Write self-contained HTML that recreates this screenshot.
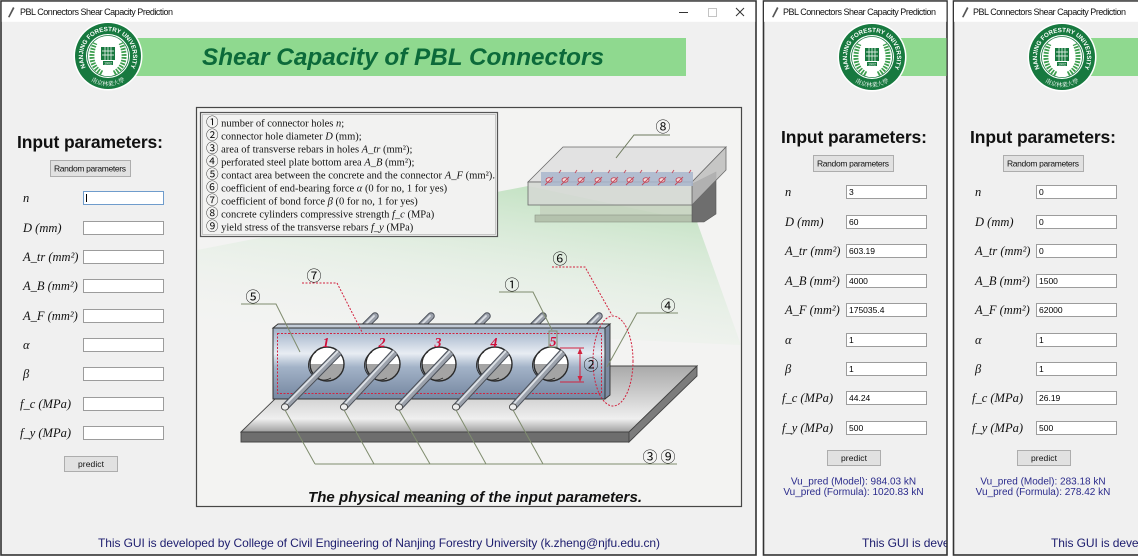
<!DOCTYPE html>
<html><head><meta charset="utf-8"><style>
html,body{margin:0;padding:0;background:#fff;}
svg{display:block;}
.sans{font-family:"Liberation Sans",Arial,sans-serif;}
.serif{font-family:"Liberation Serif","Noto Serif CJK SC",serif;}
.lab{font-family:"Liberation Serif",serif;font-style:italic;font-size:12.5px;fill:#111;}
.ent{fill:#fff;stroke:#9c9c9c;stroke-width:1;}
.ev{font-family:"Liberation Sans",Arial,sans-serif;font-size:8.5px;fill:#000;}
.btn{fill:#e1e1e1;stroke:#adadad;stroke-width:1;}
.bt{font-family:"Liberation Sans",Arial,sans-serif;font-size:8.5px;fill:#111;}
.cn{font-family:"Liberation Serif","Noto Sans CJK SC",sans-serif;font-size:15px;fill:#111;}
.res{font-family:"Liberation Sans",Arial,sans-serif;font-size:10px;fill:#2b2b8c;}
.foot{font-family:"Liberation Sans",Arial,sans-serif;font-size:12px;fill:#1d1d6e;}
.leg{font-family:"Liberation Serif","Noto Serif CJK SC",serif;font-size:10.5px;fill:#111;}
.cd{font-family:"Noto Sans CJK SC",sans-serif;font-size:12.5px;}
</style></head><body>
<svg width="1138" height="557" viewBox="0 0 1138 557" xmlns="http://www.w3.org/2000/svg">
<defs>
<linearGradient id="web" x1="0" y1="0" x2="0" y2="1">
<stop offset="0" stop-color="#9fb0c6"/><stop offset="0.2" stop-color="#c6d1df"/><stop offset="0.36" stop-color="#e8edf3"/><stop offset="0.55" stop-color="#a3b3c8"/><stop offset="0.85" stop-color="#8495ad"/><stop offset="1" stop-color="#7688a2"/>
</linearGradient>
<linearGradient id="plate" x1="0" y1="0" x2="0" y2="1">
<stop offset="0" stop-color="#a9a9a9"/><stop offset="0.45" stop-color="#cfcfcf"/><stop offset="0.8" stop-color="#efefef"/><stop offset="1" stop-color="#a0a0a0"/>
</linearGradient>
<linearGradient id="glow" x1="0.75" y1="0" x2="0.25" y2="1">
<stop offset="0" stop-color="#a8d8a8" stop-opacity="0.7"/><stop offset="0.5" stop-color="#c8e6c8" stop-opacity="0.3"/><stop offset="1" stop-color="#e8f3e8" stop-opacity="0"/>
</linearGradient>
<clipPath id="cw2"><rect x="764" y="1" width="182.5" height="554"/></clipPath>
<clipPath id="cw3"><rect x="954" y="1" width="190" height="554"/></clipPath>
</defs>

<!-- ================= WINDOW 1 ================= -->
<rect x="1" y="1" width="755" height="554" fill="#f0f0f0" stroke="#333" stroke-width="1.6"/>
<rect x="1.8" y="1.8" width="753.4" height="20" fill="#fff"/>
<path d="M8,17 L13,7 L14.5,8 L9.5,17.5 Z" fill="#555"/>
<text class="sans" x="20" y="15" font-size="9" textLength="153" fill="#111">PBL Connectors Shear Capacity Prediction</text>
<line x1="679" y1="12.5" x2="688" y2="12.5" stroke="#333" stroke-width="1"/>
<rect x="708.5" y="8.5" width="8" height="8" fill="none" stroke="#c4c4c4" stroke-width="1"/>
<path d="M736,8 L744,16 M744,8 L736,16" stroke="#333" stroke-width="1"/>

<rect x="133" y="38" width="553" height="38" fill="#8fd98f"/>
<text class="sans" x="202" y="65" font-size="24.5" font-weight="bold" font-style="italic" fill="#0c6a3a" textLength="402" lengthAdjust="spacingAndGlyphs">Shear Capacity of PBL Connectors</text>

<g transform="translate(108,56)">
<circle r="34.5" fill="#fff"/><circle r="33" fill="#17793f"/><circle r="22" fill="#fff"/>
<circle r="20.5" fill="none" stroke="#17793f" stroke-width="0.8"/>
<path d="M-6,17 C-16,12 -19,0 -13,-13" fill="none" stroke="#3d9e4f" stroke-width="5" stroke-dasharray="1.8 1.2"/>
<path d="M6,17 C16,12 19,0 13,-13" fill="none" stroke="#3d9e4f" stroke-width="5" stroke-dasharray="1.8 1.2"/>
<rect x="-7" y="-9" width="14" height="13" fill="#17793f"/>
<path d="M-6,-5h12M-6,-1h12M-3,-9v13M0,-9v13M3,-9v13" stroke="#fff" stroke-width="0.7"/>
<rect x="-5" y="5" width="10" height="4" fill="#17793f"/>
<text class="sans" y="8.5" font-size="3.5" fill="#fff" text-anchor="middle">1902</text>
<path id="lg1t" d="M-17.7,17.7 A25,25 0 1 1 17.7,17.7" fill="none"/>
<text class="sans" font-size="6.2" font-weight="bold" fill="#fff"><textPath href="#lg1t" startOffset="50%" text-anchor="middle">NANJING FORESTRY UNIVERSITY</textPath></text>
<path id="lg1b" d="M-21.2,21.2 A30,30 0 0 0 21.2,21.2" fill="none"/>
<text font-family="'Noto Serif CJK SC',serif" font-size="6" fill="#fff"><textPath href="#lg1b" startOffset="50%" text-anchor="middle">南京林業大學</textPath></text>
</g>

<!-- inputs window 1 -->
<text class="sans" x="17" y="148" font-size="17.5" font-weight="bold" fill="#111" textLength="146">Input parameters:</text>
<rect class="btn" x="50.5" y="160.5" width="80" height="16"/>
<text class="bt" x="54" y="171.5" textLength="72">Random parameters</text>

<text class="lab" x="23" y="202">n</text>
<text class="lab" x="23" y="232">D (mm)</text>
<text class="lab" x="23" y="261">A_tr (mm²)</text>
<text class="lab" x="23" y="290">A_B (mm²)</text>
<text class="lab" x="23" y="320">A_F (mm²)</text>
<text class="lab" x="23" y="349">α</text>
<text class="lab" x="23" y="378">β</text>
<text class="lab" x="20" y="408">f_c (MPa)</text>
<text class="lab" x="20" y="437">f_y (MPa)</text>
<rect x="83.5" y="191.5" width="80" height="13" fill="#fff" stroke="#6f9ccc" stroke-width="1"/>
<line x1="86.5" y1="194" x2="86.5" y2="202" stroke="#000" stroke-width="1"/>
<rect class="ent" x="83.5" y="221.5" width="80" height="13"/>
<rect class="ent" x="83.5" y="250.5" width="80" height="13"/>
<rect class="ent" x="83.5" y="279.5" width="80" height="13"/>
<rect class="ent" x="83.5" y="309.5" width="80" height="13"/>
<rect class="ent" x="83.5" y="338.5" width="80" height="13"/>
<rect class="ent" x="83.5" y="367.5" width="80" height="13"/>
<rect class="ent" x="83.5" y="397.5" width="80" height="13"/>
<rect class="ent" x="83.5" y="426.5" width="80" height="13"/>
<rect class="btn" x="64.5" y="456.5" width="53" height="15"/>
<text class="bt" x="78" y="467" textLength="26">predict</text>

<!-- diagram panel -->
<rect x="196.5" y="107.5" width="545" height="399" fill="#f3f3f2" stroke="#474747" stroke-width="1.2"/>
<polygon points="528,186 697,222 741,345 197,320 197,250" fill="url(#glow)"/>

<!-- sketch -->
<g>
<rect x="540" y="205" width="152" height="11" fill="#c5d3bf" opacity="0.9"/>
<rect x="535" y="215" width="163" height="7" fill="#b4c2ad" stroke="#8a9486" stroke-width="0.6"/>
<polygon points="692,184 716,172 716,214 704,222 692,222" fill="#6e6e6e" stroke="#555" stroke-width="0.6"/>
<polygon points="528,182 563,147 726,147 692,182" fill="#e2e2e2" stroke="#6a6a6a" stroke-width="0.8"/>
<polygon points="692,182 726,147 726,170 692,205" fill="#bdbdbd" fill-opacity="0.85" stroke="#6a6a6a" stroke-width="0.8"/>
<rect x="528" y="182" width="164" height="23" fill="#d4d8d3" fill-opacity="0.9" stroke="#6a6a6a" stroke-width="0.8"/>
<rect x="541" y="172" width="152" height="14" fill="#a9b6cc" fill-opacity="0.85"/>
<g stroke="#c44a5c" stroke-width="0.9" fill="#f3dcdc">
<ellipse cx="549" cy="180" rx="3" ry="2.3"/><ellipse cx="565" cy="180" rx="3" ry="2.3"/><ellipse cx="581" cy="180" rx="3" ry="2.3"/><ellipse cx="598" cy="180" rx="3" ry="2.3"/><ellipse cx="614" cy="180" rx="3" ry="2.3"/><ellipse cx="630" cy="180" rx="3" ry="2.3"/><ellipse cx="646" cy="180" rx="3" ry="2.3"/><ellipse cx="662" cy="180" rx="3" ry="2.3"/><ellipse cx="679" cy="180" rx="3" ry="2.3"/>
</g>
<path d="M545,185l8,-8M561,185l8,-8M577,185l8,-8M594,185l8,-8M610,185l8,-8M626,185l8,-8M642,185l8,-8M658,185l8,-8M675,185l8,-8M559,173l2,-3M575,173l2,-3M591,173l2,-3M608,173l2,-3M624,173l2,-3M640,173l2,-3M656,173l2,-3M672,173l2,-3M689,173l2,-3" stroke="#c44a5c" stroke-width="0.9"/>
<polyline points="670,135 634,135 616,158" fill="none" stroke="#6e7a5e" stroke-width="1"/>
<text class="cn" x="663" y="132" text-anchor="middle">⑧</text>
</g>

<!-- legend -->
<rect x="200.5" y="112.5" width="297" height="124" fill="#f2f2f1" stroke="#555" stroke-width="1.2"/>
<rect x="202.5" y="114.5" width="293" height="120" fill="none" stroke="#aaa" stroke-width="0.6"/>
<text class="leg" x="206" y="126.5"><tspan class="cd">①</tspan> number of connector holes <tspan font-style="italic">n</tspan>;</text>
<text class="leg" x="206" y="139.5"><tspan class="cd">②</tspan> connector hole diameter <tspan font-style="italic">D</tspan> (mm);</text>
<text class="leg" x="206" y="152.5"><tspan class="cd">③</tspan> area of transverse rebars in  holes  <tspan font-style="italic">A_tr</tspan> (mm²);</text>
<text class="leg" x="206" y="165.5"><tspan class="cd">④</tspan> perforated steel plate bottom area <tspan font-style="italic">A_B</tspan> (mm²);</text>
<text class="leg" x="206" y="178.5" textLength="289" lengthAdjust="spacingAndGlyphs"><tspan class="cd">⑤</tspan> contact area between the concrete and the connector <tspan font-style="italic">A_F</tspan> (mm²).</text>
<text class="leg" x="206" y="191.5"><tspan class="cd">⑥</tspan> coefficient of end-bearing force <tspan font-style="italic">α</tspan> (0 for no, 1 for yes)</text>
<text class="leg" x="206" y="204.5"><tspan class="cd">⑦</tspan> coefficient of bond force <tspan font-style="italic">β</tspan> (0 for no, 1 for yes)</text>
<text class="leg" x="206" y="217.5"><tspan class="cd">⑧</tspan> concrete cylinders compressive strength <tspan font-style="italic">f_c</tspan> (MPa)</text>
<text class="leg" x="206" y="230.5"><tspan class="cd">⑨</tspan> yield stress of the transverse rebars <tspan font-style="italic">f_y</tspan> (MPa)</text>

<!-- base plate -->
<polygon points="241,432 309,366 697,366 629,432" fill="url(#plate)" stroke="#444" stroke-width="0.9"/>
<polygon points="241,432 629,432 629,442 241,442" fill="#6e6e6e" stroke="#444" stroke-width="0.9"/>
<polygon points="629,432 697,366 697,376 629,442" fill="#7c7c7c" stroke="#444" stroke-width="0.9"/>

<!-- rebar stubs behind web -->
<g stroke-linecap="round">
<g stroke="#4a4f58" stroke-width="7.5"><line x1="375" y1="316" x2="362" y2="329"/><line x1="431" y1="316" x2="418" y2="329"/><line x1="487" y1="316" x2="474" y2="329"/><line x1="543" y1="316" x2="530" y2="329"/><line x1="599" y1="316" x2="586" y2="329"/></g>
<g stroke="#9ca2ac" stroke-width="5.5"><line x1="375" y1="316" x2="362" y2="329"/><line x1="431" y1="316" x2="418" y2="329"/><line x1="487" y1="316" x2="474" y2="329"/><line x1="543" y1="316" x2="530" y2="329"/><line x1="599" y1="316" x2="586" y2="329"/></g>
<g stroke="#dde1e6" stroke-width="1.8"><line x1="374" y1="316" x2="361" y2="329"/><line x1="430" y1="316" x2="417" y2="329"/><line x1="486" y1="316" x2="473" y2="329"/><line x1="542" y1="316" x2="529" y2="329"/><line x1="598" y1="316" x2="585" y2="329"/></g>
</g>

<!-- web -->
<polygon points="273,328 278,324 610,324 605,328" fill="#c3ccd8" stroke="#333" stroke-width="0.9"/>
<rect x="273" y="328" width="332" height="71" fill="url(#web)" stroke="#333" stroke-width="1"/>
<polygon points="605,328 610,324 610,395 605,399" fill="#7e8ca3" stroke="#333" stroke-width="0.9"/>
<rect x="277.5" y="333.5" width="324" height="60" fill="none" stroke="#d2233f" stroke-width="1" stroke-dasharray="2 1.5"/>

<!-- holes -->
<g stroke="#2a2a2a">
<g><circle cx="327" cy="364" r="17" fill="#fff" stroke="none"/><path d="M310,364 A17,17 0 0 0 344,364 Z" fill="#a4a4a4" stroke="none"/><path d="M316,352 A14,14 0 0 0 331,378" fill="none" stroke-width="0.9"/><circle cx="327" cy="364" r="17" fill="none" stroke-width="1.4"/></g>
<g><circle cx="383" cy="364" r="17" fill="#fff" stroke="none"/><path d="M366,364 A17,17 0 0 0 400,364 Z" fill="#a4a4a4" stroke="none"/><path d="M372,352 A14,14 0 0 0 387,378" fill="none" stroke-width="0.9"/><circle cx="383" cy="364" r="17" fill="none" stroke-width="1.4"/></g>
<g><circle cx="439" cy="364" r="17" fill="#fff" stroke="none"/><path d="M422,364 A17,17 0 0 0 456,364 Z" fill="#a4a4a4" stroke="none"/><path d="M428,352 A14,14 0 0 0 443,378" fill="none" stroke-width="0.9"/><circle cx="439" cy="364" r="17" fill="none" stroke-width="1.4"/></g>
<g><circle cx="495" cy="364" r="17" fill="#fff" stroke="none"/><path d="M478,364 A17,17 0 0 0 512,364 Z" fill="#a4a4a4" stroke="none"/><path d="M484,352 A14,14 0 0 0 499,378" fill="none" stroke-width="0.9"/><circle cx="495" cy="364" r="17" fill="none" stroke-width="1.4"/></g>
<g><circle cx="551" cy="364" r="17" fill="#fff" stroke="none"/><path d="M534,364 A17,17 0 0 0 568,364 Z" fill="#a4a4a4" stroke="none"/><path d="M540,352 A14,14 0 0 0 555,378" fill="none" stroke-width="0.9"/><circle cx="551" cy="364" r="17" fill="none" stroke-width="1.4"/></g>
</g>

<!-- rebars front -->
<g stroke-linecap="butt">
<g stroke="#4a4f58" stroke-width="7.5"><line x1="285" y1="407" x2="339" y2="352"/><line x1="344" y1="407" x2="395" y2="352"/><line x1="399" y1="407" x2="451" y2="352"/><line x1="456" y1="407" x2="507" y2="352"/><line x1="513" y1="407" x2="563" y2="352"/></g>
<g stroke="#9ca2ac" stroke-width="5.5"><line x1="285" y1="407" x2="339" y2="352"/><line x1="344" y1="407" x2="395" y2="352"/><line x1="399" y1="407" x2="451" y2="352"/><line x1="456" y1="407" x2="507" y2="352"/><line x1="513" y1="407" x2="563" y2="352"/></g>
<g stroke="#dde1e6" stroke-width="1.8"><line x1="284" y1="406" x2="338" y2="351"/><line x1="343" y1="406" x2="394" y2="351"/><line x1="398" y1="406" x2="450" y2="351"/><line x1="455" y1="406" x2="506" y2="351"/><line x1="512" y1="406" x2="562" y2="351"/></g>
</g>
<g fill="#ececec" stroke="#444" stroke-width="0.9">
<ellipse cx="285" cy="407" rx="3.6" ry="3.2"/><ellipse cx="344" cy="407" rx="3.6" ry="3.2"/><ellipse cx="399" cy="407" rx="3.6" ry="3.2"/><ellipse cx="456" cy="407" rx="3.6" ry="3.2"/><ellipse cx="513" cy="407" rx="3.6" ry="3.2"/>
</g>

<!-- hole numbers -->
<g font-family="'Liberation Serif',serif" font-weight="bold" font-style="italic" font-size="14" fill="#d0103a" text-anchor="middle">
<text x="326" y="347">1</text><text x="382" y="347">2</text><text x="438" y="347">3</text><text x="494" y="347">4</text><text x="553" y="346">5</text>
</g>

<!-- leaders -->
<g fill="none" stroke="#7f8c6e" stroke-width="1">
<polyline points="241,304 276,304 300,352"/>
<polyline points="499,292 533,292 552,330"/>
<rect x="549" y="331" width="8" height="16"/>
<polyline points="678,313 637,313 607,367"/>
<line x1="315" y1="464" x2="677" y2="464"/>
<line x1="285" y1="410" x2="315" y2="464"/><line x1="344" y1="410" x2="374" y2="464"/><line x1="399" y1="410" x2="430" y2="464"/><line x1="456" y1="410" x2="486" y2="464"/><line x1="513" y1="410" x2="543" y2="464"/>
</g>
<g fill="none" stroke="#d2233f" stroke-width="1" stroke-dasharray="2 1.5">
<polyline points="302,283 337,283 362,332"/>
<polyline points="552,267 585,267 612,315"/>
<ellipse cx="613" cy="361" rx="20" ry="45"/>
</g>
<g stroke="#d2233f" stroke-width="1" fill="#d2233f">
<line x1="560" y1="348" x2="584" y2="348"/><line x1="560" y1="382" x2="584" y2="382"/>
<line x1="580" y1="351" x2="580" y2="379"/>
<path d="M580,348 L577.5,354 L582.5,354 Z" stroke="none"/><path d="M580,382 L577.5,376 L582.5,376 Z" stroke="none"/>
</g>
<g class="cn" text-anchor="middle">
<text x="253" y="302">⑤</text>
<text x="314" y="281">⑦</text>
<text x="512" y="290">①</text>
<text x="560" y="264">⑥</text>
<text x="668" y="311">④</text>
<text x="591" y="370">②</text>
<text x="650" y="462">③</text>
<text x="668" y="462">⑨</text>
</g>

<text class="sans" x="308" y="502" font-size="15" font-weight="bold" font-style="italic" fill="#111" textLength="334">The physical meaning of the input parameters.</text>

<text class="foot" x="98" y="547" textLength="562">This GUI is developed by College of Civil Engineering of Nanjing Forestry University (k.zheng@njfu.edu.cn)</text>

<!-- ================= WINDOW 2 ================= -->
<rect x="763.5" y="1" width="183.5" height="554" fill="#f0f0f0" stroke="#333" stroke-width="1.6"/>
<g clip-path="url(#cw2)">
<rect x="764" y="1.8" width="183" height="20" fill="#fff"/>
<path d="M772,17 L777,7 L778.5,8 L773.5,17.5 Z" fill="#555"/>
<text class="sans" x="783" y="15" font-size="9" textLength="153" fill="#111">PBL Connectors Shear Capacity Prediction</text>
<rect x="895" y="38" width="60" height="38" fill="#8fd98f"/>
<g transform="translate(872,57)">
<circle r="34.5" fill="#fff"/><circle r="33" fill="#17793f"/><circle r="22" fill="#fff"/>
<circle r="20.5" fill="none" stroke="#17793f" stroke-width="0.8"/>
<path d="M-6,17 C-16,12 -19,0 -13,-13" fill="none" stroke="#3d9e4f" stroke-width="5" stroke-dasharray="1.8 1.2"/>
<path d="M6,17 C16,12 19,0 13,-13" fill="none" stroke="#3d9e4f" stroke-width="5" stroke-dasharray="1.8 1.2"/>
<rect x="-7" y="-9" width="14" height="13" fill="#17793f"/>
<path d="M-6,-5h12M-6,-1h12M-3,-9v13M0,-9v13M3,-9v13" stroke="#fff" stroke-width="0.7"/>
<rect x="-5" y="5" width="10" height="4" fill="#17793f"/>
<text class="sans" y="8.5" font-size="3.5" fill="#fff" text-anchor="middle">1902</text>
<path id="lg2t" d="M-17.7,17.7 A25,25 0 1 1 17.7,17.7" fill="none"/>
<text class="sans" font-size="6.2" font-weight="bold" fill="#fff"><textPath href="#lg2t" startOffset="50%" text-anchor="middle">NANJING FORESTRY UNIVERSITY</textPath></text>
<path id="lg2b" d="M-21.2,21.2 A30,30 0 0 0 21.2,21.2" fill="none"/>
<text font-family="'Noto Serif CJK SC',serif" font-size="6" fill="#fff"><textPath href="#lg2b" startOffset="50%" text-anchor="middle">南京林業大學</textPath></text>
</g>
<text class="sans" x="781" y="143" font-size="17.5" font-weight="bold" fill="#111" textLength="146">Input parameters:</text>
<rect class="btn" x="813.5" y="155.5" width="80" height="16"/>
<text class="bt" x="817" y="166.5" textLength="72">Random parameters</text>
<text class="lab" x="785" y="196">n</text>
<text class="lab" x="785" y="226">D (mm)</text>
<text class="lab" x="785" y="255">A_tr (mm²)</text>
<text class="lab" x="785" y="285">A_B (mm²)</text>
<text class="lab" x="785" y="314">A_F (mm²)</text>
<text class="lab" x="785" y="344">α</text>
<text class="lab" x="785" y="373">β</text>
<text class="lab" x="782" y="402">f_c (MPa)</text>
<text class="lab" x="782" y="432">f_y (MPa)</text>
<rect class="ent" x="846.5" y="185.5" width="80" height="13"/><text class="ev" x="849" y="195">3</text>
<rect class="ent" x="846.5" y="215.5" width="80" height="13"/><text class="ev" x="849" y="225">60</text>
<rect class="ent" x="846.5" y="244.5" width="80" height="13"/><text class="ev" x="849" y="254">603.19</text>
<rect class="ent" x="846.5" y="274.5" width="80" height="13"/><text class="ev" x="849" y="284">4000</text>
<rect class="ent" x="846.5" y="303.5" width="80" height="13"/><text class="ev" x="849" y="313">175035.4</text>
<rect class="ent" x="846.5" y="333.5" width="80" height="13"/><text class="ev" x="849" y="343">1</text>
<rect class="ent" x="846.5" y="362.5" width="80" height="13"/><text class="ev" x="849" y="372">1</text>
<rect class="ent" x="846.5" y="391.5" width="80" height="13"/><text class="ev" x="849" y="401">44.24</text>
<rect class="ent" x="846.5" y="421.5" width="80" height="13"/><text class="ev" x="849" y="431">500</text>
<rect class="btn" x="827.5" y="450.5" width="53" height="15"/>
<text class="bt" x="841" y="461" textLength="26">predict</text>
<text class="res" x="853.5" y="484.5" text-anchor="middle">Vu_pred (Model): 984.03 kN</text>
<text class="res" x="853.5" y="495" text-anchor="middle">Vu_pred (Formula): 1020.83 kN</text>
<text class="foot" x="862" y="547" textLength="562">This GUI is developed by College of Civil Engineering of Nanjing Forestry University (k.zheng@njfu.edu.cn)</text>
</g>

<!-- ================= WINDOW 3 ================= -->
<rect x="953.5" y="1" width="190" height="554" fill="#f0f0f0" stroke="#333" stroke-width="1.6"/>
<g clip-path="url(#cw3)">
<rect x="954" y="1.8" width="190" height="20" fill="#fff"/>
<path d="M962,17 L967,7 L968.5,8 L963.5,17.5 Z" fill="#555"/>
<text class="sans" x="973" y="15" font-size="9" textLength="153" fill="#111">PBL Connectors Shear Capacity Prediction</text>
<rect x="1085" y="38" width="60" height="38" fill="#8fd98f"/>
<g transform="translate(1062,57)">
<circle r="34.5" fill="#fff"/><circle r="33" fill="#17793f"/><circle r="22" fill="#fff"/>
<circle r="20.5" fill="none" stroke="#17793f" stroke-width="0.8"/>
<path d="M-6,17 C-16,12 -19,0 -13,-13" fill="none" stroke="#3d9e4f" stroke-width="5" stroke-dasharray="1.8 1.2"/>
<path d="M6,17 C16,12 19,0 13,-13" fill="none" stroke="#3d9e4f" stroke-width="5" stroke-dasharray="1.8 1.2"/>
<rect x="-7" y="-9" width="14" height="13" fill="#17793f"/>
<path d="M-6,-5h12M-6,-1h12M-3,-9v13M0,-9v13M3,-9v13" stroke="#fff" stroke-width="0.7"/>
<rect x="-5" y="5" width="10" height="4" fill="#17793f"/>
<text class="sans" y="8.5" font-size="3.5" fill="#fff" text-anchor="middle">1902</text>
<path id="lg3t" d="M-17.7,17.7 A25,25 0 1 1 17.7,17.7" fill="none"/>
<text class="sans" font-size="6.2" font-weight="bold" fill="#fff"><textPath href="#lg3t" startOffset="50%" text-anchor="middle">NANJING FORESTRY UNIVERSITY</textPath></text>
<path id="lg3b" d="M-21.2,21.2 A30,30 0 0 0 21.2,21.2" fill="none"/>
<text font-family="'Noto Serif CJK SC',serif" font-size="6" fill="#fff"><textPath href="#lg3b" startOffset="50%" text-anchor="middle">南京林業大學</textPath></text>
</g>
<text class="sans" x="970" y="143" font-size="17.5" font-weight="bold" fill="#111" textLength="146">Input parameters:</text>
<rect class="btn" x="1003.5" y="155.5" width="80" height="16"/>
<text class="bt" x="1007" y="166.5" textLength="72">Random parameters</text>
<text class="lab" x="975" y="196">n</text>
<text class="lab" x="975" y="226">D (mm)</text>
<text class="lab" x="975" y="255">A_tr (mm²)</text>
<text class="lab" x="975" y="285">A_B (mm²)</text>
<text class="lab" x="975" y="314">A_F (mm²)</text>
<text class="lab" x="975" y="344">α</text>
<text class="lab" x="975" y="373">β</text>
<text class="lab" x="972" y="402">f_c (MPa)</text>
<text class="lab" x="972" y="432">f_y (MPa)</text>
<rect class="ent" x="1036.5" y="185.5" width="80" height="13"/><text class="ev" x="1039" y="195">0</text>
<rect class="ent" x="1036.5" y="215.5" width="80" height="13"/><text class="ev" x="1039" y="225">0</text>
<rect class="ent" x="1036.5" y="244.5" width="80" height="13"/><text class="ev" x="1039" y="254">0</text>
<rect class="ent" x="1036.5" y="274.5" width="80" height="13"/><text class="ev" x="1039" y="284">1500</text>
<rect class="ent" x="1036.5" y="303.5" width="80" height="13"/><text class="ev" x="1039" y="313">62000</text>
<rect class="ent" x="1036.5" y="333.5" width="80" height="13"/><text class="ev" x="1039" y="343">1</text>
<rect class="ent" x="1036.5" y="362.5" width="80" height="13"/><text class="ev" x="1039" y="372">1</text>
<rect class="ent" x="1036.5" y="391.5" width="80" height="13"/><text class="ev" x="1039" y="401">26.19</text>
<rect class="ent" x="1036.5" y="421.5" width="80" height="13"/><text class="ev" x="1039" y="431">500</text>
<rect class="btn" x="1017.5" y="450.5" width="53" height="15"/>
<text class="bt" x="1031" y="461" textLength="26">predict</text>
<text class="res" x="1043" y="484.5" text-anchor="middle">Vu_pred (Model): 283.18 kN</text>
<text class="res" x="1043" y="495" text-anchor="middle">Vu_pred (Formula): 278.42 kN</text>
<text class="foot" x="1051" y="547" textLength="562">This GUI is developed by College of Civil Engineering of Nanjing Forestry University (k.zheng@njfu.edu.cn)</text>
</g>
</svg>
</body></html>
